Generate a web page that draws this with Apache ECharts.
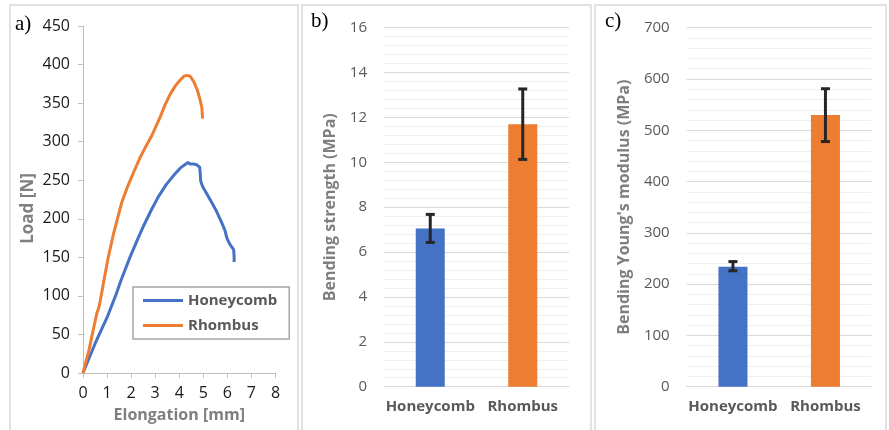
<!DOCTYPE html>
<html lang="en">
<head>
  <meta charset="UTF-8">
  <title>Load curves and bending properties</title>
  <style>
    html, body { margin: 0; padding: 0; background: #ffffff; }
    #chart { width: 889px; height: 430px; }
  </style>
</head>
<body>
  <div id="chart"></div>
</body>
<script src="https://cdn.jsdelivr.net/npm/echarts@6/dist/echarts.min.js"></script>
<script>
  // a) load vs elongation, [mm, N]
  var honeycombCurve = [
    [0, 0], [0.5, 38], [1.0, 72], [1.34, 99], [1.6, 122], [1.95, 150], [2.25, 172],
    [2.52, 191], [2.85, 212], [3.14, 229], [3.45, 244], [3.76, 256], [4.05, 266],
    [4.36, 273], [4.45, 271], [4.6, 271], [4.72, 270], [4.85, 267], [4.87, 260],
    [4.89, 249], [4.97, 242], [5.15, 232], [5.35, 221], [5.56, 209], [5.75, 196],
    [5.9, 185], [5.98, 175], [6.1, 167], [6.26, 160], [6.28, 152], [6.28, 144]
  ]
  var rhombusCurve = [
    [0, 0], [0.25, 30], [0.44, 58], [0.58, 78], [0.66, 85], [0.72, 94], [0.88, 122],
    [1.05, 150], [1.25, 178], [1.45, 202], [1.6, 220], [1.83, 240], [2.1, 260],
    [2.38, 280], [2.6, 293], [2.86, 308], [3.05, 321], [3.21, 332], [3.4, 347],
    [3.63, 362], [3.85, 373], [4.04, 380], [4.2, 385], [4.32, 386], [4.45, 385],
    [4.6, 378], [4.75, 367], [4.86, 355], [4.94, 344], [4.97, 330]
  ]
  var curveNames = ['Honeycomb', 'Rhombus']

  // b) and c) bars with error bars
  var structures = ['Honeycomb', 'Rhombus']
  var strengthMean = [7.05, 11.7]
  var strengthLow = [6.43, 10.13]
  var strengthHigh = [7.68, 13.27]
  var modulusMean = [234, 530]
  var modulusLow = [226, 478]
  var modulusHigh = [244, 581]

  var blue = '#4472c4'
  var orange = '#ed7d31'
  var barColors = [blue, orange]
  var font = "'Open Sans', sans-serif"
  var frameColor = '#d9d9d9'

  function barData(values) {
    return values.map(function (v, i) {
      return { value: v, itemStyle: { color: barColors[i] } }
    })
  }
  function errData(low, high) {
    return low.map(function (l, i) { return [i, l, high[i]] })
  }
  function renderError(params, api) {
    var i = api.value(0)
    var lo = api.coord([i, api.value(1)])
    var hi = api.coord([i, api.value(2)])
    var w = 4.5
    var style = { stroke: '#262626', lineWidth: 3 }
    return {
      type: 'group',
      children: [
        { type: 'line', shape: { x1: hi[0], y1: hi[1], x2: lo[0], y2: lo[1] }, style: style },
        { type: 'line', shape: { x1: hi[0] - w, y1: hi[1], x2: hi[0] + w, y2: hi[1] }, style: style },
        { type: 'line', shape: { x1: lo[0] - w, y1: lo[1], x2: lo[0] + w, y2: lo[1] }, style: style }
      ]
    }
  }
  function barYAxis(idx, max, interval, name, gap) {
    return {
      gridIndex: idx, type: 'value', min: 0, max: max, interval: interval,
      name: name, nameLocation: 'middle', nameGap: gap,
      nameTextStyle: { fontFamily: font, fontWeight: 'bold', fontSize: 16, color: '#7f7f7f' },
      axisLine: { show: false }, axisTick: { show: false },
      axisLabel: { fontFamily: font, fontSize: 15, color: '#595959', margin: 17 },
      splitLine: { lineStyle: { color: '#d9d9d9', width: 1 } },
      minorTick: { show: false, splitNumber: 5 },
      minorSplitLine: { show: true, lineStyle: { color: '#f0f0f0', width: 1 } }
    }
  }
  function barXAxis(idx) {
    return {
      gridIndex: idx, type: 'category', data: structures,
      axisLine: { lineStyle: { color: '#d9d9d9', width: 1 } }, axisTick: { show: false },
      axisLabel: {
        interval: 0, hideOverlap: false,
        fontFamily: font, fontSize: 15, fontWeight: 'bold', color: '#595959', margin: 13
      }
    }
  }

  var myChart = echarts.init(document.getElementById('chart'))
  var option = {
    animation: false,
    backgroundColor: '#ffffff',
    graphic: [
      { type: 'rect', shape: { x: 10, y: 5, width: 288, height: 440 }, style: { fill: 'none', stroke: frameColor, lineWidth: 1.5 } },
      { type: 'rect', shape: { x: 302, y: 5, width: 289, height: 440 }, style: { fill: 'none', stroke: frameColor, lineWidth: 1.5 } },
      { type: 'rect', shape: { x: 595, y: 5, width: 291, height: 440 }, style: { fill: 'none', stroke: frameColor, lineWidth: 1.5 } },
      { type: 'text', left: 15, top: 14, style: { text: 'a)', font: '21px "Liberation Serif", serif', fill: '#000' } },
      { type: 'text', left: 311, top: 11, style: { text: 'b)', font: '21px "Liberation Serif", serif', fill: '#000' } },
      { type: 'text', left: 605, top: 11, style: { text: 'c)', font: '21px "Liberation Serif", serif', fill: '#000' } }
    ],
    legend: {
      data: curveNames,
      orient: 'vertical',
      left: 133, top: 287,
      padding: [6, 12, 6, 10],
      itemGap: 10,
      itemWidth: 40, itemHeight: 3,
      icon: 'rect',
      borderColor: '#a6a6a6', borderWidth: 1.5,
      textStyle: { fontFamily: font, fontSize: 15, fontWeight: 'bold', color: '#595959' }
    },
    grid: [
      { left: 83, top: 26, width: 192.5, height: 347 },
      { left: 384, top: 27.7, width: 185, height: 359 },
      { left: 686.7, top: 27.7, width: 185, height: 359 }
    ],
    xAxis: [
      {
        gridIndex: 0, type: 'value', min: 0, max: 8, interval: 1,
        name: 'Elongation [mm]', nameLocation: 'middle', nameGap: 34,
        nameTextStyle: { fontFamily: font, fontWeight: 'bold', fontSize: 16, color: '#7f7f7f' },
        axisLine: { lineStyle: { color: '#bfbfbf', width: 1 } },
        axisTick: { show: true, length: 5, lineStyle: { color: '#bfbfbf' } },
        axisLabel: { fontFamily: font, fontSize: 16, color: '#1a1a1a', margin: 12 },
        splitLine: { show: false }
      },
      barXAxis(1),
      barXAxis(2)
    ],
    yAxis: [
      {
        gridIndex: 0, type: 'value', min: 0, max: 450, interval: 50,
        name: 'Load [N]', nameLocation: 'middle', nameGap: 46,
        nameTextStyle: { fontFamily: font, fontWeight: 'bold', fontSize: 17, color: '#7f7f7f', padding: [0, 18, 0, 0] },
        axisLine: { show: true, lineStyle: { color: '#bfbfbf', width: 1 } },
        axisTick: { show: true, length: 5, lineStyle: { color: '#bfbfbf' } },
        axisLabel: { fontFamily: font, fontSize: 16, color: '#1a1a1a', margin: 13 },
        splitLine: { show: false }
      },
      barYAxis(1, 16, 2, 'Bending strength (MPa)', 46),
      barYAxis(2, 700, 100, "Bending Young's modulus (MPa)", 54)
    ],
    series: [
      {
        name: curveNames[0], type: 'line', xAxisIndex: 0, yAxisIndex: 0,
        data: honeycombCurve, showSymbol: false, symbol: 'none',
        lineStyle: { color: blue, width: 3 }, itemStyle: { color: blue }
      },
      {
        name: curveNames[1], type: 'line', xAxisIndex: 0, yAxisIndex: 0,
        data: rhombusCurve, showSymbol: false, symbol: 'none',
        lineStyle: { color: orange, width: 3 }, itemStyle: { color: orange }
      },
      {
        name: 'strength', type: 'bar', xAxisIndex: 1, yAxisIndex: 1,
        barWidth: 29, data: barData(strengthMean)
      },
      {
        name: 'strength-err', type: 'custom', xAxisIndex: 1, yAxisIndex: 1,
        renderItem: renderError, data: errData(strengthLow, strengthHigh), z: 5
      },
      {
        name: 'modulus', type: 'bar', xAxisIndex: 2, yAxisIndex: 2,
        barWidth: 29, data: barData(modulusMean)
      },
      {
        name: 'modulus-err', type: 'custom', xAxisIndex: 2, yAxisIndex: 2,
        renderItem: renderError, data: errData(modulusLow, modulusHigh), z: 5
      }
    ]
  }
  myChart.setOption(option)
</script>
</html>
